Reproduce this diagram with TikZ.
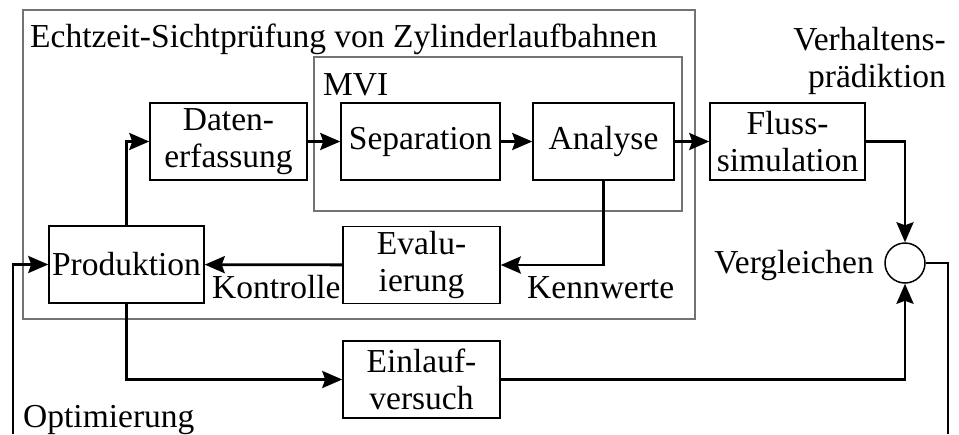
\documentclass[tikz,border=0pt]{standalone}
\usepackage{fontspec}
\setmainfont{Liberation Serif}
\usetikzlibrary{arrows.meta}
\begin{document}
\begin{tikzpicture}[x=1pt,y=-1pt,
  every node/.style={font=\fontsize{33.5}{37.5}\selectfont, inner sep=0pt},
  blk/.style={draw, line width=1.5pt, minimum width=#1, minimum height=77pt, align=center},
  grp/.style={draw=black!55, line width=1.5pt},
  con/.style={line width=2.8pt, -{Stealth[length=20pt,width=17pt,inset=3pt]}},
  lin/.style={line width=2.8pt}]
\useasboundingbox (0,0) rectangle (959,434);
% group frames
\draw[grp] (23,10) rectangle (695,319);
\draw[grp] (314,57) rectangle (682,211);
\node[anchor=base west] (title) at (30,47) {Echtzeit-Sichtprüfung von Zylinderlaufbahnen};
\node[anchor=base west] (mvi) at (323,95) {MVI};
% blocks
\node[blk=157pt] (daten) at (228.5,141.5) {Daten-\\erfassung};
\node[blk=159pt] (sep) at (420.5,141.5) {Separation};
\node[blk=141pt] (ana) at (603.5,141.5) {Analyse};
\node[blk=155pt] (fluss) at (787.5,141.5) {Fluss-\\simulation};
\node[blk=155pt] (prod) at (126.5,264.5) {Produktion};
\node[blk=157pt] (eval) at (421.5,265) {Evalu-\\ierung};
\node[blk=157pt] (einl) at (421.5,379.5) {Einlauf-\\versuch};
\node[draw, line width=1.5pt, circle, minimum size=40pt] (cmp) at (905,263) {};
% labels
\node[anchor=base west] (kontr) at (212,298) {Kontrolle};
\node[anchor=base west] (kenn) at (527,298) {Kennwerte};
\node[anchor=base east] (vergl) at (874,273) {Vergleichen};
\node[anchor=base east, align=right] (verh1) at (946,50) {Verhaltens-};
\node[anchor=base east, align=right] (verh2) at (946,87) {prädiktion};
\node[anchor=base west] (opt) at (23,427) {Optimierung};
% connectors
\coordinate (fbR) at (948,263);
\coordinate (fbRb) at (948,434);
\coordinate (fbLb) at (13,434);
\coordinate (fbL) at (13,264.5);
\draw[con] (prod.north) |- (daten.west);
\draw[con] (daten) -- (sep);
\draw[con] (sep) -- (ana);
\draw[con] (ana) -- (fluss);
\draw[con] (ana.south) |- (eval.east);
\draw[con] (eval) -- (prod);
\draw[con] (prod.south) |- (einl.west);
\draw[con] (einl.east) -| (cmp.south);
\draw[con] (fluss.east) -| (cmp.north);
\draw[lin] (cmp.east) -- (fbR) -- (fbRb);
\draw[con] (fbLb) -- (fbL) -- (prod.west);
\end{tikzpicture}
\end{document}
